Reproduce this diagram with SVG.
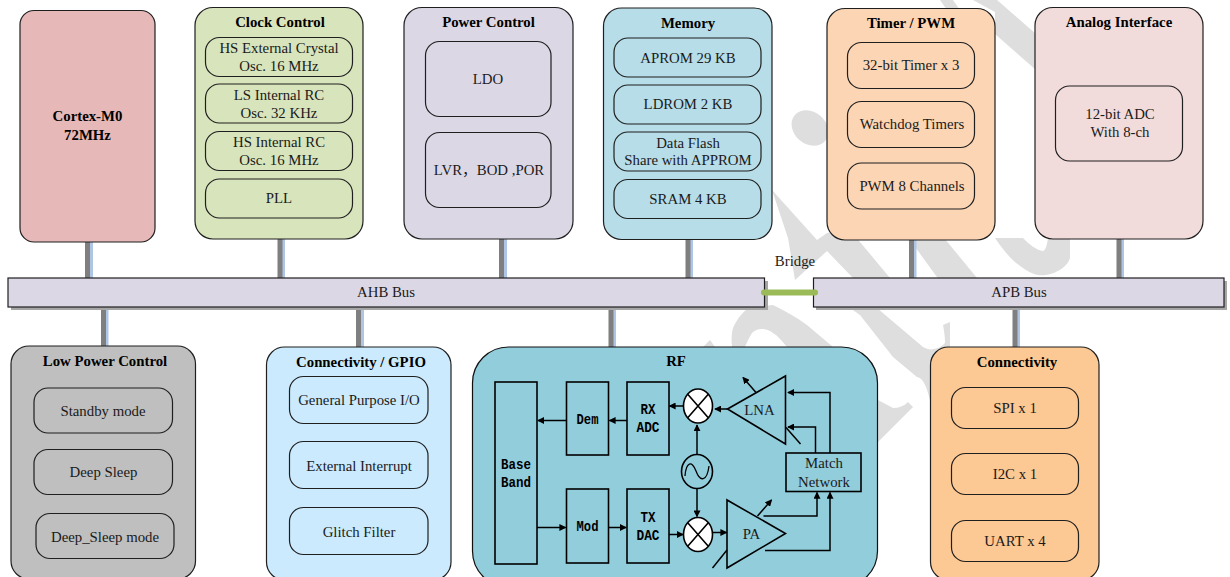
<svg xmlns="http://www.w3.org/2000/svg" width="1230" height="577" viewBox="0 0 1230 577">
<style>
text{font-family:"Liberation Serif","Times New Roman","Noto Sans CJK SC",serif;font-size:14.8px;fill:#1a1a1a;text-anchor:middle}
.t{font-weight:bold;fill:#000}
.m{font-family:"Liberation Mono","Courier New",monospace;font-size:15px;font-weight:bold;fill:#000}
.box{stroke:#1f1f1f;stroke-width:1.2}
.in{fill:none;stroke:#1f1f1f;stroke-width:1.2}
.rf{fill:none;stroke:#000;stroke-width:1.6}
.mx{fill:#fff;stroke:#000;stroke-width:1.6}
.gr{stroke:#7f7f7f;stroke-width:5;fill:none}
.bl{stroke:#aec6e4;stroke-width:3;fill:none}
.wm{fill:#dedede}
</style>
<defs>
<marker id="a" viewBox="0 0 8 8" refX="7" refY="4" markerWidth="7" markerHeight="7" markerUnits="userSpaceOnUse" orient="auto"><path d="M0 0L8 4L0 8Z" fill="#000"/></marker>
</defs>
<rect width="1230" height="577" fill="#fff"/>
<g id="watermark" class="wm">
<path d="M940 0H953L960 10H947Z"/>
<path d="M973 0H997L1036 34V70L995 34V12Z"/>
<ellipse cx="810" cy="128" rx="20" ry="16" transform="rotate(40 810 128)"/>
<path d="M772 190L817 240L827 233L850 230L890 278V300H853V278L827 251L795 280L788 238Z"/>
<path d="M905 233L940 233L977 278V295H950Z"/>
<path d="M995 238C1003 250 1013 262 1023 268C1033 275 1040 276 1046 275C1058 273 1068 266 1070 258V238H1048C1047 246 1045 251 1043 251C1036 250 1029 244 1023 238Z"/>
<path d="M732 347C731 338 732 332 733 328C737 319 742 313 748 308L773 305C785 311 796 317 807 325L833 347H787C782 341 778 336 773 333C769 330 766 329 762 329C757 329 754 331 752 333C749 338 747 342 745 347Z"/>
<path d="M703 347L710 340L715 347Z"/>
<path d="M850 308H877L923 347C927 349 930 350 934 349C940 348 943 345 945 343C945 337 944 330 943 325L950 322V400H930C925 380 921 378 917 377L893 357L860 315Z"/>
<path d="M878 400L893 408C899 408 904 406 908 402L913 407L878 442Z"/>
</g>
<g id="connectors">
<path class="bl" d="M91.500 242V278M283.500 239V278M505.500 239V278M691.500 239V278M915 240V278M1122.500 239V278M107 307V347M362.500 307V347M614.500 307V347M1018.500 307V347"/>
<path class="gr" d="M87.500 242V278M280 239V278M501.500 239V278M688 239V278M911.500 240V278M1119 239V278M103.500 307V347M358.500 307V347M611 307V347M1015 307V347"/>
</g>
<g id="ahb"><rect x="11" y="281" width="757" height="29" fill="#a6a6a6"/><rect class="box" x="8" y="278" width="756.500" height="29" fill="#dcd7e5"/><text x="386" y="297">AHB Bus</text></g>
<g id="apb"><rect x="816" y="281" width="411" height="29" fill="#a6a6a6"/><rect class="box" x="813.500" y="278" width="410.500" height="29" fill="#dcd7e5"/><text x="1019" y="297">APB Bus</text></g>
<g id="bridge"><path d="M764 292.500H815" stroke="#9bbb59" stroke-width="6" stroke-linecap="round"/><text x="795" y="266">Bridge</text></g>
<g id="cortex"><rect class="box" x="20" y="10.500" width="135" height="231.500" rx="14" fill="#e6b9b8"/><text class="t" x="87.500" y="121">Cortex-M0</text><text class="t" x="87.500" y="140">72MHz</text></g>
<g id="clock"><rect class="box" x="195" y="7.500" width="168" height="231.500" rx="18" fill="#d8e4bc"/><text class="t" x="280" y="27">Clock Control</text>
<rect class="in" x="205.500" y="37.500" width="147" height="39" rx="14"/><text x="279" y="53">HS External Crystal</text><text x="279" y="71">Osc. 16 MHz</text>
<rect class="in" x="205.500" y="84" width="147" height="39" rx="14"/><text x="279" y="100">LS Internal RC</text><text x="279" y="118">Osc. 32 KHz</text>
<rect class="in" x="205.500" y="131.500" width="147" height="39" rx="14"/><text x="279" y="147">HS Internal RC</text><text x="279" y="165">Osc. 16 MHz</text>
<rect class="in" x="205.500" y="179" width="147" height="39" rx="14"/><text x="279" y="203">PLL</text></g>
<g id="power"><rect class="box" x="404" y="7.500" width="169" height="231.500" rx="18" fill="#dcd7e5"/><text class="t" x="488.500" y="27">Power Control</text>
<rect class="in" x="425.500" y="41.500" width="125.500" height="75" rx="14"/><text x="488" y="84">LDO</text>
<rect class="in" x="425.500" y="132.500" width="125.500" height="75" rx="14"/><text x="489" y="175">LVR，BOD ,POR</text></g>
<g id="memory"><rect class="box" x="603.500" y="8" width="168.500" height="231.500" rx="18" fill="#b7dde8"/><text class="t" x="688" y="28">Memory</text>
<rect class="in" x="614" y="38" width="147" height="39" rx="14"/><text x="688" y="63">APROM 29 KB</text>
<rect class="in" x="614" y="85" width="147" height="39" rx="14"/><text x="688" y="109">LDROM 2 KB</text>
<rect class="in" x="614" y="132" width="147" height="39" rx="14"/><text x="688" y="148">Data Flash</text><text x="688" y="165">Share with APPROM</text>
<rect class="in" x="614" y="179.500" width="147" height="39" rx="14"/><text x="688" y="204">SRAM 4 KB</text></g>
<g id="timer"><rect class="box" x="827" y="8.500" width="168" height="231.500" rx="18" fill="#fcd5b4"/><text class="t" x="911" y="28">Timer / PWM</text>
<rect class="in" x="847.500" y="42.500" width="127" height="46" rx="14"/><text x="911" y="70">32-bit Timer x 3</text>
<rect class="in" x="847.500" y="101.500" width="127" height="46" rx="14"/><text x="912" y="129">Watchdog Timers</text>
<rect class="in" x="847.500" y="163" width="127" height="46" rx="14"/><text x="912" y="191">PWM 8 Channels</text></g>
<g id="analog"><rect class="box" x="1035" y="7.500" width="168" height="231.500" rx="18" fill="#f2dcdb"/><text class="t" x="1119" y="27">Analog Interface</text>
<rect class="in" x="1055.500" y="86" width="127" height="75" rx="14"/><text x="1120" y="119">12-bit ADC</text><text x="1120" y="137">With 8-ch</text></g>
<g id="lowpower"><rect class="box" x="11" y="346" width="184.500" height="233" rx="18" fill="#bfbfbf"/><text class="t" x="105" y="366">Low Power Control</text>
<rect class="in" x="34" y="388" width="138.500" height="45" rx="14"/><text x="103" y="416">Standby mode</text>
<rect class="in" x="34" y="449.500" width="138.500" height="45" rx="14"/><text x="103.500" y="477">Deep Sleep</text>
<rect class="in" x="36" y="513.500" width="138" height="45" rx="14"/><text x="105" y="542">Deep_Sleep mode</text></g>
<g id="gpio"><rect class="box" x="266.500" y="347" width="184.500" height="233" rx="18" fill="#cbeafd"/><text class="t" x="361" y="367">Connectivity / GPIO</text>
<rect class="in" x="289.500" y="376.500" width="138.500" height="47" rx="14"/><text x="359" y="405">General Purpose I/O</text>
<rect class="in" x="289.500" y="441.500" width="138.500" height="47" rx="14"/><text x="359" y="471">External Interrupt</text>
<rect class="in" x="289.500" y="507.500" width="138.500" height="47" rx="14"/><text x="359" y="537">Glitch Filter</text></g>
<g id="connectivity"><rect class="box" x="930.500" y="347" width="168.500" height="233" rx="18" fill="#fcc893"/><text class="t" x="1017" y="367">Connectivity</text>
<rect class="in" x="951.500" y="387.500" width="127" height="41" rx="14"/><text x="1015" y="413">SPI x 1</text>
<rect class="in" x="951.500" y="453.500" width="127" height="41" rx="14"/><text x="1015" y="479">I2C x 1</text>
<rect class="in" x="951.500" y="520.500" width="127" height="41" rx="14"/><text x="1015" y="546">UART x 4</text></g>
<g id="rf"><rect x="472.500" y="347" width="405" height="240" rx="36" fill="#92cddc" stroke="#111" stroke-width="1.200"/><text class="t" x="676" y="366">RF</text>
<g id="baseband"><rect class="rf" x="495" y="382" width="42" height="182"/><text class="m" x="516" y="469" textLength="30" lengthAdjust="spacingAndGlyphs">Base</text><text class="m" x="516" y="487" textLength="30" lengthAdjust="spacingAndGlyphs">Band</text></g>
<g id="dem"><rect class="rf" x="566.500" y="382" width="42" height="73"/><text class="m" x="587.500" y="424" textLength="22" lengthAdjust="spacingAndGlyphs">Dem</text></g>
<g id="rxadc"><rect class="rf" x="627" y="382" width="42" height="73"/><text class="m" x="648" y="414" textLength="15" lengthAdjust="spacingAndGlyphs">RX</text><text class="m" x="648" y="432" textLength="23" lengthAdjust="spacingAndGlyphs">ADC</text></g>
<g id="mod"><rect class="rf" x="566.500" y="489" width="42" height="74"/><text class="m" x="587.500" y="531" textLength="22" lengthAdjust="spacingAndGlyphs">Mod</text></g>
<g id="txdac"><rect class="rf" x="627" y="489" width="42" height="74"/><text class="m" x="648" y="522" textLength="15" lengthAdjust="spacingAndGlyphs">TX</text><text class="m" x="648" y="540" textLength="23" lengthAdjust="spacingAndGlyphs">DAC</text></g>
<g id="mixrx"><ellipse class="mx" cx="698" cy="406" rx="14.500" ry="17"/><path class="rf" d="M687.500 394L708.500 418M708.500 394L687.500 418"/></g>
<g id="mixtx"><ellipse class="mx" cx="698" cy="534.500" rx="14.500" ry="17"/><path class="rf" d="M687.500 522.500L708.500 546.500M708.500 522.500L687.500 546.500"/></g>
<g id="osc"><ellipse cx="697" cy="471.500" rx="15.500" ry="17" fill="none" stroke="#000" stroke-width="1.600"/><path d="M685 476C686 462 692 460 696 471S707 482 709 466" fill="none" stroke="#000" stroke-width="1.300"/></g>
<g id="lna"><path class="rf" d="M727.500 409L785.500 376V444Z"/><text x="759.500" y="415">LNA</text></g>
<g id="pa"><path class="rf" d="M727 500V568L785.500 533.500Z"/><text x="751.500" y="539">PA</text></g>
<g id="match"><rect class="rf" x="786" y="453" width="75" height="38.500"/><text x="824" y="468">Match</text><text x="824" y="487">Network</text></g>
<g id="rfwires" fill="none" stroke="#000" stroke-width="1.500">
<path d="M727.500 409H715" marker-end="url(#a)"/><path d="M683.500 406H669.500" marker-end="url(#a)"/>
<path d="M627 420.500H609.500" marker-end="url(#a)"/><path d="M566.500 420.500H538" marker-end="url(#a)"/>
<path d="M537 527.500H565.500" marker-end="url(#a)"/><path d="M608.500 527.500H626" marker-end="url(#a)"/>
<path d="M669 534.500H683" marker-end="url(#a)"/><path d="M712.500 532.500H726.500" marker-end="url(#a)"/>
<path d="M697 454.500V425" marker-end="url(#a)"/><path d="M697 488.500V516.500" marker-end="url(#a)"/>
<path d="M756 392.500L743 377.500" marker-end="url(#a)"/><path d="M757.500 516L771.500 500" marker-end="url(#a)"/>
<path d="M830 453V392.500H788" marker-end="url(#a)"/><path d="M815.500 453V427H788" marker-end="url(#a)"/>
<path d="M786 427.500L800.500 444"/><path d="M727 550L712.500 568"/>
<path d="M763.500 516H817V492.500" marker-end="url(#a)"/><path d="M765 550.500H830V492.500" marker-end="url(#a)"/>
</g></g>
</svg>
